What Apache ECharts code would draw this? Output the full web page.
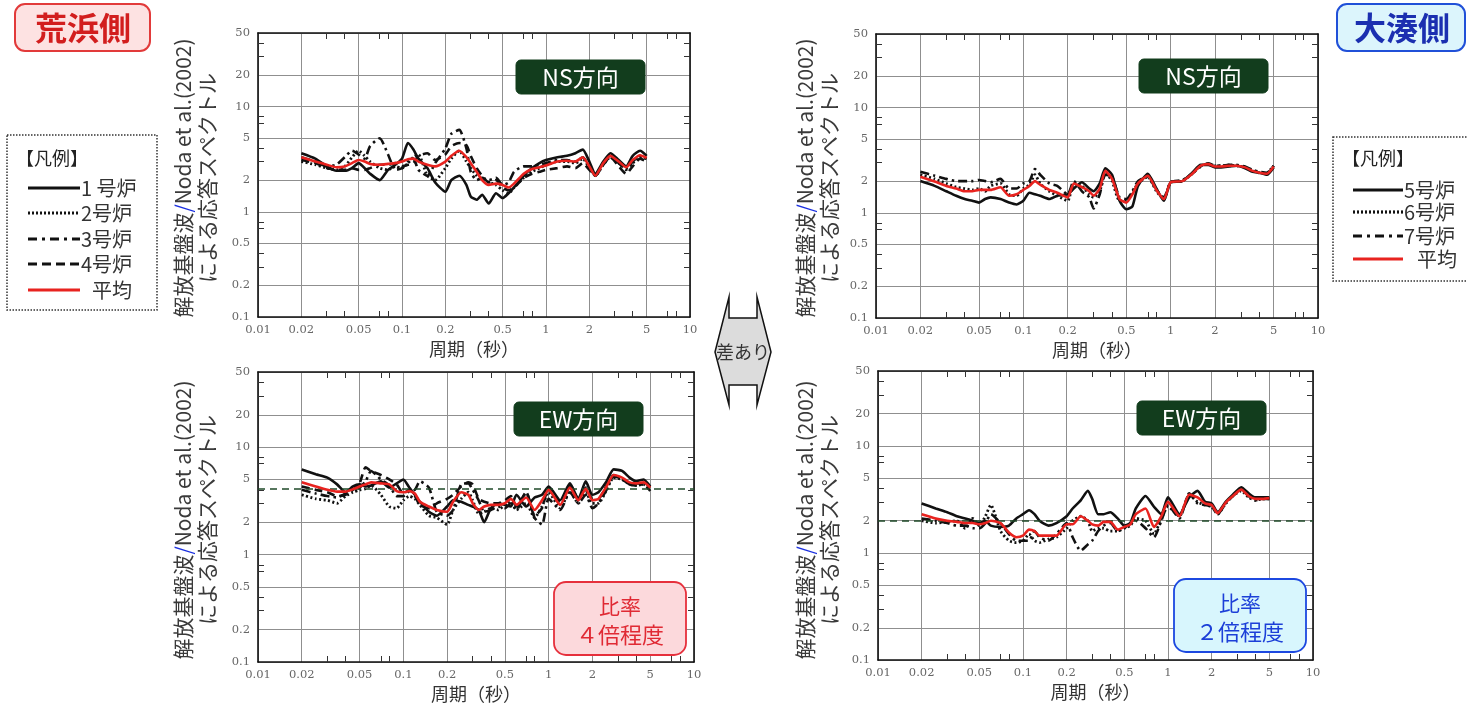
<!DOCTYPE html>
<html><head><meta charset="utf-8">
<script src="https://cdn.jsdelivr.net/npm/echarts@6/dist/echarts.min.js"></script>
<style>html,body{margin:0;padding:0;background:#fff}#c{width:1467px;height:708px}</style>
</head><body><div id="c"></div>
<script>
// ---- data ----
const periods = [0.02,0.025,0.03,0.035,0.04,0.045,0.05,0.055,0.06,0.07,
 0.08,0.09,0.1,0.11,0.12,0.13,0.15,0.17,0.2,0.22,
 0.25,0.28,0.3,0.33,0.36,0.4,0.45,0.5,0.55,0.6,
 0.7,0.8,0.9,1.0,1.2,1.4,1.6,1.8,2.0,2.2,
 2.5,2.8,3.2,3.6,4.0,4.5,5.0];
const xTickLabels = [0.01,0.02,0.05,0.1,0.2,0.5,1,2,5,10];
const yTickLabels = [0.1,0.2,0.5,1,2,5,10,20,50];
const xMinorTicks = [0.03,0.04,0.07,0.08,0.3,0.4,0.7,0.8,3,4,7,8];
const yMinorTicks = [0.3,0.4,0.7,0.8,3,4,7,8,30,40];

// 荒浜側 NS
const arNS_u1 = [3.6,3.2,2.7,2.45,2.45,2.6,2.9,2.6,2.3,2.0, 2.5,2.8,3.2,4.5,3.9,3.2,2.6,1.9,1.55,2.0, 2.2,1.8,1.4,1.3,1.45,1.2,1.5,1.35,1.5,1.7, 2.2,2.6,2.9,3.1,3.3,3.4,3.6,3.9,3.0,2.3, 3.0,3.6,3.1,2.7,3.4,3.8,3.4];
const arNS_u2 = [3.0,2.8,2.6,2.5,2.7,3.3,3.8,3.4,3.0,2.6, 2.5,2.7,2.6,2.9,3.3,3.5,2.2,2.0,2.6,3.2, 3.8,3.0,2.6,2.2,2.0,1.9,1.8,1.6,1.5,1.7, 2.1,2.4,2.6,2.8,3.0,3.0,2.9,3.2,2.6,2.2, 2.8,3.3,2.9,2.6,2.9,3.3,3.2];
const arNS_u3 = [3.3,3.0,2.7,2.8,3.3,3.8,3.5,3.2,4.2,5.0, 3.5,2.5,2.6,3.0,3.2,2.5,2.2,2.9,4.0,5.5, 6.0,4.0,2.4,2.0,2.1,2.0,2.1,1.8,1.9,2.4, 2.7,2.7,2.8,2.9,3.1,3.1,3.0,3.3,2.7,2.2, 2.9,3.4,2.9,2.5,3.0,3.4,3.2];
const arNS_u4 = [3.1,2.9,2.6,2.5,2.5,2.6,2.5,2.5,2.6,2.8, 2.8,2.9,2.7,2.8,2.9,3.4,3.6,3.1,3.5,4.2, 4.5,4.3,3.4,2.6,2.2,1.9,2.0,1.7,1.6,1.7, 2.1,2.3,2.4,2.5,2.6,2.7,2.6,2.9,2.5,2.2, 2.8,3.3,2.7,2.3,2.7,3.2,3.0];
const arNS_avg = [3.3,3.0,2.8,2.65,2.7,2.9,3.1,3.0,2.85,2.8, 2.85,2.9,3.0,3.15,3.2,3.0,2.8,2.7,3.0,3.4, 3.8,3.3,2.9,2.4,2.0,1.8,1.85,1.8,1.7,1.85, 2.3,2.55,2.65,2.75,3.0,3.05,3.0,3.3,2.7,2.2, 2.9,3.4,3.0,2.65,3.1,3.45,3.25];
// 大湊側 NS
const ooNS_u5 = [2.0,1.8,1.6,1.45,1.35,1.3,1.25,1.35,1.4,1.35, 1.25,1.2,1.3,1.55,1.5,1.45,1.35,1.45,1.5,1.7, 1.95,1.7,1.6,1.9,2.65,2.3,1.3,1.08,1.15,1.8, 2.35,1.7,1.3,1.95,2.0,2.4,2.85,2.85,2.7,2.7, 2.75,2.8,2.65,2.45,2.4,2.3,2.7];
const ooNS_u6 = [2.3,2.1,1.9,1.75,1.7,1.65,1.7,1.6,1.8,1.9, 1.5,1.45,1.7,1.85,2.3,1.9,1.6,1.45,1.3,1.9, 1.8,1.5,1.4,1.6,2.4,2.0,1.3,1.3,1.55,1.9, 2.2,1.6,1.35,1.95,2.0,2.35,2.8,2.9,2.8,2.8, 2.85,2.8,2.7,2.5,2.4,2.4,2.8];
const ooNS_u7 = [2.45,2.25,2.1,2.0,2.0,2.0,2.05,2.0,1.95,2.1, 1.7,1.7,1.9,2.0,2.6,2.3,1.9,1.8,1.5,2.0, 1.6,1.4,1.1,1.5,2.3,2.2,1.4,1.35,1.6,2.0, 2.2,1.65,1.4,1.95,2.05,2.35,2.75,2.95,2.8,2.8, 2.85,2.85,2.75,2.55,2.45,2.4,2.8];
const ooNS_avg = [2.2,1.98,1.8,1.7,1.6,1.6,1.65,1.65,1.65,1.75, 1.45,1.5,1.65,1.8,2.0,1.85,1.65,1.55,1.4,1.9, 1.75,1.6,1.45,1.7,2.5,2.1,1.35,1.25,1.5,1.9, 2.25,1.65,1.35,1.95,2.0,2.35,2.8,2.9,2.75,2.75, 2.8,2.8,2.7,2.5,2.4,2.35,2.75];
// 荒浜側 EW
const arEW_u1 = [6.2,5.6,5.2,4.5,3.8,4.3,4.5,4.3,4.4,4.8, 4.2,4.6,5.0,4.2,3.6,3.1,2.5,2.3,2.8,3.2, 3.1,2.9,2.8,2.6,2.0,2.7,3.0,2.9,2.8,3.6, 2.8,3.4,3.6,4.3,3.2,4.6,3.3,4.8,3.6,3.8, 4.8,6.2,6.0,5.2,4.8,5.0,4.3];
const arEW_u2 = [3.6,3.3,3.2,3.0,3.5,3.8,4.0,4.1,4.4,3.6, 2.8,2.7,3.2,3.5,3.3,2.9,2.3,2.2,1.9,2.6, 3.3,3.8,3.2,2.4,2.5,2.7,2.6,2.9,3.1,2.6, 3.0,2.2,2.8,3.8,2.7,3.9,3.0,3.8,3.0,3.0, 4.0,5.2,5.0,4.5,4.4,4.5,4.0];
const arEW_u3 = [4.0,3.7,3.5,3.4,3.7,4.0,4.2,4.8,6.0,5.0, 4.4,3.5,3.5,3.9,4.0,4.8,4.2,2.5,2.3,2.6, 4.5,4.6,4.0,3.2,2.5,2.6,2.8,2.7,3.0,2.6, 3.8,2.2,1.9,3.3,2.6,3.8,3.0,3.6,2.7,3.0, 4.0,5.3,5.1,4.5,4.4,4.5,3.9];
const arEW_u4 = [4.3,4.0,3.8,3.5,3.6,4.0,4.6,6.5,6.0,5.5, 5.0,4.5,3.7,4.0,3.5,2.9,2.7,3.0,3.3,3.6, 4.3,4.7,4.5,3.3,3.1,3.0,3.0,3.2,3.5,2.8, 3.8,2.3,2.7,4.2,3.0,4.4,3.3,4.2,3.3,3.3, 4.4,5.5,5.0,4.6,4.6,4.6,4.2];
const arEW_avg = [4.7,4.3,4.0,3.85,3.85,4.05,4.3,4.5,4.7,4.6, 4.5,3.9,3.8,3.9,3.7,3.1,2.8,2.6,2.5,3.1, 3.8,3.6,3.0,2.6,2.8,2.9,2.9,3.0,3.3,2.9, 3.4,2.6,3.2,4.0,2.9,4.2,3.2,4.1,3.2,3.3, 4.3,5.5,5.2,4.7,4.6,4.7,4.2];
// 大湊側 EW
const ooEW_u5 = [2.9,2.6,2.4,2.2,2.1,2.0,1.9,2.0,1.8,1.75, 1.8,2.1,2.3,2.5,2.3,2.0,1.8,1.9,2.2,2.6, 3.1,3.8,3.2,2.3,2.3,2.4,2.1,1.8,1.9,2.6, 3.4,2.7,2.3,3.3,2.3,3.3,3.8,3.0,2.9,2.4, 3.0,3.5,4.1,3.6,3.3,3.3,3.3];
const ooEW_u6 = [2.0,1.9,1.95,2.0,1.7,2.1,1.8,2.2,2.8,1.6, 1.3,1.25,1.3,1.5,1.3,1.25,1.35,1.4,1.7,2.0, 2.2,2.0,1.6,1.7,1.7,1.6,1.6,1.7,1.8,2.1, 2.0,1.5,2.1,2.7,2.2,3.5,3.0,2.8,2.7,2.3, 2.9,3.4,3.8,3.3,3.1,3.2,3.2];
const ooEW_u7 = [2.1,2.0,1.9,1.8,1.8,1.7,1.7,1.9,2.3,1.9, 1.5,1.3,1.3,1.3,1.6,1.4,1.3,1.5,1.9,1.4, 1.05,1.2,1.3,1.6,1.8,1.9,1.6,1.7,1.9,2.0, 1.7,1.4,2.0,2.8,2.1,3.6,2.9,2.8,2.7,2.3, 2.9,3.4,3.9,3.4,3.1,3.2,3.2];
const ooEW_avg = [2.3,2.1,2.0,1.95,1.9,1.9,1.85,1.9,2.0,1.9, 1.55,1.4,1.45,1.65,1.6,1.45,1.45,1.45,1.85,1.85, 2.2,2.0,1.85,1.8,1.95,1.95,1.65,1.75,1.85,2.3, 2.6,1.75,2.2,3.0,2.2,3.5,3.3,2.9,2.8,2.35, 2.95,3.4,3.9,3.4,3.2,3.2,3.25];
const refLevels = [4.1, 2.0]; // 荒浜EW, 大湊EW

// ---- chart ----
const SERIF = 'DejaVu Serif';
const JP = 'Noto Sans CJK JP';
const grids = [
  {left:258, top:33, width:432, height:284},
  {left:876, top:34, width:442, height:284},
  {left:258, top:372, width:436, height:290},
  {left:878, top:371, width:435, height:289}
];
const fmt = v => String(parseFloat((+v).toPrecision(2)));
const AX = '#111';
function mkX(gi){
  const base = {gridIndex:gi, type:'log', logBase:10, min:0.01, max:10};
  return [
    Object.assign({}, base, {position:'bottom',
      axisLine:{show:true, onZero:false, lineStyle:{color:AX, width:1.6}},
      axisTick:{show:true, inside:true, length:6, customValues:xMinorTicks, lineStyle:{color:'#333'}},
      axisLabel:{show:true, customValues:xTickLabels, formatter:fmt, fontFamily:SERIF, fontSize:11.5, color:'#666', margin:7},
      splitLine:{show:false},
      name:'周期（秒）', nameLocation:'middle', nameGap:23,
      nameTextStyle:{fontFamily:JP, fontSize:18, color:'#333'}}),
    Object.assign({}, base, {position:'top',
      axisLine:{show:true, onZero:false, lineStyle:{color:AX, width:1.6}},
      axisTick:{show:false, customValues:xTickLabels}, axisLabel:{show:false},
      splitLine:{show:true, lineStyle:{color:'#8f8f8f', width:1}}}),
    Object.assign({}, base, {position:'top',
      axisLine:{show:false},
      axisTick:{show:true, inside:true, length:6, customValues:xMinorTicks, lineStyle:{color:'#333'}},
      axisLabel:{show:false}, splitLine:{show:false}})
  ];
}
function mkY(gi){
  const base = {gridIndex:gi, type:'log', logBase:10, min:0.1, max:50};
  return [
    Object.assign({}, base, {position:'left',
      axisLine:{show:true, onZero:false, lineStyle:{color:AX, width:1.6}},
      axisTick:{show:true, inside:true, length:6, customValues:yMinorTicks, lineStyle:{color:'#333'}},
      axisLabel:{show:true, customValues:yTickLabels, formatter:fmt, fontFamily:SERIF, fontSize:11.5, color:'#666', margin:8},
      splitLine:{show:false}}),
    Object.assign({}, base, {position:'right',
      axisLine:{show:true, onZero:false, lineStyle:{color:AX, width:1.6}},
      axisTick:{show:false, customValues:yTickLabels}, axisLabel:{show:false},
      splitLine:{show:true, lineStyle:{color:'#8f8f8f', width:1}}}),
    Object.assign({}, base, {position:'right',
      axisLine:{show:false},
      axisTick:{show:true, inside:true, length:6, customValues:yMinorTicks, lineStyle:{color:'#333'}},
      axisLabel:{show:false}, splitLine:{show:false}})
  ];
}
const STY = {
  solid:{color:'#111', width:2.6, type:'solid'},
  dot:{color:'#111', width:2.8, type:[2,2.5]},
  dashdot:{color:'#111', width:2.6, type:[9,4,2.5,4]},
  dash:{color:'#111', width:2.6, type:[8,5]},
  avg:{color:'#e8231f', width:2.6, type:'solid'}
};
const panels = [
  {g:0, lines:[[arNS_u1,'solid'],[arNS_u2,'dot'],[arNS_u3,'dashdot'],[arNS_u4,'dash']], avg:arNS_avg},
  {g:1, lines:[[ooNS_u5,'solid'],[ooNS_u6,'dot'],[ooNS_u7,'dashdot']], avg:ooNS_avg},
  {g:2, lines:[[arEW_u1,'solid'],[arEW_u2,'dot'],[arEW_u3,'dashdot'],[arEW_u4,'dash']], avg:arEW_avg, ref:refLevels[0]},
  {g:3, lines:[[ooEW_u5,'solid'],[ooEW_u6,'dot'],[ooEW_u7,'dashdot']], avg:ooEW_avg, ref:refLevels[1]}
];
const series = [];
panels.forEach(p => {
  p.lines.forEach(([arr, st]) => {
    series.push({type:'line', xAxisIndex:3*p.g, yAxisIndex:3*p.g, symbol:'none', smooth:0.2,
      data: periods.map((t,i)=>[t, arr[i]]), lineStyle:STY[st], z:3, silent:true});
  });
  const s = {type:'line', xAxisIndex:3*p.g, yAxisIndex:3*p.g, symbol:'none', smooth:0.2,
    data: periods.map((t,i)=>[t, p.avg[i]]), lineStyle:STY.avg, z:5, silent:true};
  if (p.ref) s.markLine = {silent:true, symbol:'none', label:{show:false},
    lineStyle:{type:[7,5], color:'#1f4a28', width:1.6}, data:[{yAxis:p.ref}]};
  series.push(s);
});

// ---- graphics ----
const G = [];
function box(x,y,w,h,fill,stroke,lw,r){ G.push({type:'rect', shape:{x,y,width:w,height:h,r}, style:{fill,stroke,lineWidth:lw}, z:10}); }
function txt(x,y,text,size,color,extra){ G.push(Object.assign({type:'text', x, y, z:11, style:Object.assign({text, fontSize:size, fontFamily:JP, fill:color, align:'center', verticalAlign:'middle'}, extra||{})})); }
// titles
box(15,4,135,47,'#fde2e2','#e23a3a',2,10);
txt(83,28,'荒浜側',32,'#d21e1e',{fontWeight:'bold'});
box(1337,4,128,47,'#dcf5fc','#2050d8',2,10);
txt(1402,28,'大湊側',32,'#1b2fb0',{fontWeight:'bold'});
// legends
function legend(x0,y0,w,h,rows,lineX1,lineX2,ty){
  G.push({type:'rect', shape:{x:x0,y:y0,width:w,height:h}, style:{fill:'#fff',stroke:'#333',lineWidth:1.5,lineDash:[1.5,1.5]}, z:10});
  txt(x0+9,ty,'【凡例】',18,'#222',{align:'left'});
  rows.forEach(([y,st,label,tx]) => {
    const color = st==='avg' ? '#e8231f' : '#111';
    const dash = {solid:null, avg:null, dot:[2,2], dashdot:[9,5,3,5], dash:[9,5]}[st];
    G.push({type:'line', shape:{x1:lineX1,y1:y,x2:lineX2,y2:y}, style:{stroke:color,lineWidth:3.2,lineDash:dash}, z:11});
    txt(tx,y,label,20,'#333',{align:'left'});
  });
}
legend(7,135,150,175,[[188,'solid','1 号炉',81],[213,'dot','2号炉',81],[239,'dashdot','3号炉',81],[264,'dash','4号炉',81],[290,'avg','平均',92]],28,80,158);
legend(1333,137,140,144,[[190,'solid','5号炉',1404],[212,'dot','6号炉',1404],[236,'dashdot','7号炉',1404],[259,'avg','平均',1417]],1353,1403,158);
// direction labels
[[516,60,'NS方向'],[1139,59,'NS方向'],[514,402,'EW方向'],[1137,401,'EW方向']].forEach(([x,y,t]) => {
  box(x,y,129,34,'#123d1d','#123d1d',1,5);
  txt(x+64.5,y+17,t,23,'#fff');
});
// ratio boxes
box(554,582,132,73,'#fcd9dc','#e6303c',1.8,12);
txt(620,606,'比率',21,'#e02a34'); txt(620,635,'４倍程度',22,'#e02a34');
box(1174,579,132,73,'#d8f6fd','#1c48e0',1.8,12);
txt(1240,603,'比率',21,'#1c3fd8'); txt(1240,632,'２倍程度',22,'#1c3fd8');
// center arrow
G.push({type:'polygon', shape:{points:[[729,297],[729,318],[757,318],[757,297],[771,352],[757,405],[757,385],[729,385],[729,405],[715,352]]},
  style:{fill:'#dcdcdc', stroke:'#111', lineWidth:1.5}, z:10});
txt(743,352,'差あり',18,'#333');
// y axis names
[[183,207,178],[805,829,178],[183,207,520],[805,829,520]].forEach(([x1,x2,cy]) => {
  G.push({type:'text', x:x1, y:cy, rotation:Math.PI/2, z:11, style:{
    text:'{a|解放基盤波}{b|/}{a|Noda et al.(2002)}', align:'center', verticalAlign:'middle',
    rich:{a:{fontSize:21, fontFamily:JP, fill:'#3a3a3a'}, b:{fontSize:21, fontFamily:JP, fill:'#1a2fe0'}}}});
  G.push({type:'text', x:x2, y:cy, rotation:Math.PI/2, z:11, style:{
    text:'による応答スペクトル', fontSize:21, fontFamily:JP, fill:'#3a3a3a', align:'center', verticalAlign:'middle'}});
});

const xAxis = [], yAxis = [];
grids.forEach((g,i) => { xAxis.push(...mkX(i)); yAxis.push(...mkY(i)); });
const chart = echarts.init(document.getElementById('c'), null, {renderer:'canvas'});
chart.setOption({
  animation:false,
  backgroundColor:'#fff',
  grid: grids.map(g => Object.assign({containLabel:false}, g)),
  xAxis, yAxis, series, graphic: G
});
</script></body></html>
